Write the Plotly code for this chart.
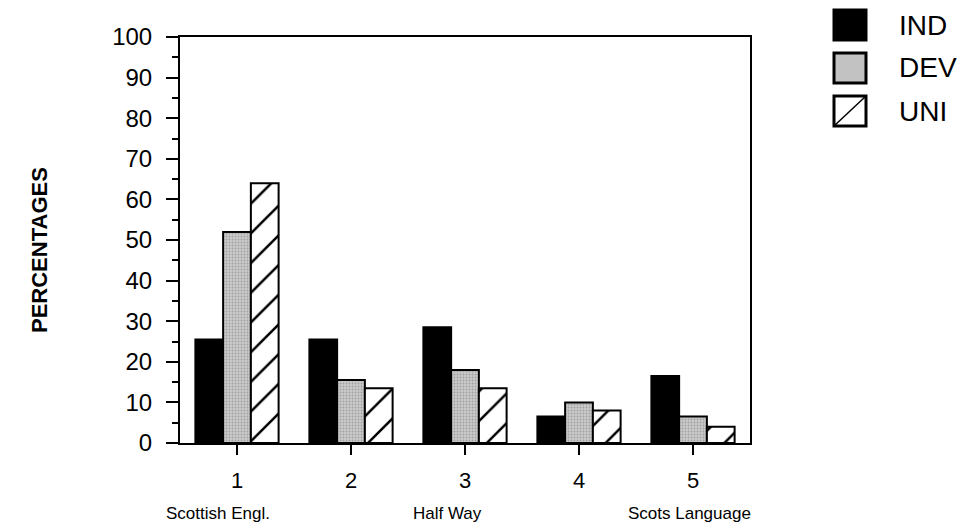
import plotly.graph_objects as go

categories = [1, 2, 3, 4, 5]
tick_labels = ["1", "2", "3", "4", "5"]
scale_labels = {1: "Scottish Engl.", 3: "Half Way", 5: "Scots Language"}
ind_values = [25.5, 25.5, 28.5, 6.5, 16.5]
dev_values = [52, 15.5, 18, 10, 6.5]
uni_values = [64, 13.5, 13.5, 8, 4]
series_names = ["IND", "DEV", "UNI"]

# page has an 8px body margin; compensate so the chart fills the 965x530 window
OFF = 8
W, H = 965 - OFF, 530 - OFF
ML, MR, MT, MB = 180 - OFF, 215, 37 - OFF, 87
PW, PH = W - ML - MR, H - MT - MB


def px(x):  # page pixel -> paper
    return (x - OFF - ML) / PW


def py(y):
    return (H - MB - (y - OFF)) / PH


line = dict(color="black", width=2)
fig = go.Figure()
fig.add_trace(go.Bar(x=categories, y=ind_values, name="IND",
                     marker=dict(color="black", line=line)))
fig.add_trace(go.Bar(x=categories, y=dev_values, name="DEV",
                     marker=dict(color="#c2c2c2", line=line,
                                 pattern=dict(shape=".", fgcolor="#a0a0a0", bgcolor="#cbcbcb",
                                              size=3, solidity=0.3, fgopacity=1))))
fig.add_trace(go.Bar(x=categories, y=uni_values, name="UNI",
                     marker=dict(color="white", line=line,
                                 pattern=dict(shape="/", fgcolor="black", bgcolor="white",
                                              size=21, solidity=0.12, fgopacity=1))))

font_main = "Liberation Sans, Arial, Helvetica, sans-serif"
narrow = "Liberation Sans Narrow, Arial Narrow, Liberation Sans, sans-serif"

fig.update_layout(
    width=W, height=H,
    margin=dict(l=ML, r=MR, t=MT, b=MB, pad=0),
    paper_bgcolor="white", plot_bgcolor="white",
    barmode="group", bargap=0.27, bargroupgap=0,
    showlegend=False,
    font=dict(family=font_main, color="black"),
    xaxis=dict(range=[0.5, 5.5], tickvals=categories, ticktext=tick_labels,
               ticks="outside", ticklen=10, tickwidth=2, tickcolor="black",
               showline=True, linewidth=2, linecolor="black", mirror=True,
               showgrid=False, zeroline=False, tickfont=dict(size=22),
               ticklabelstandoff=7),
    yaxis=dict(range=[0, 100], tickvals=list(range(0, 101, 10)),
               ticks="outside", ticklen=12, tickwidth=2, tickcolor="black",
               minor=dict(tickvals=list(range(5, 100, 10)), ticks="outside", ticklen=6,
                          tickwidth=2, tickcolor="black"),
               showline=True, linewidth=2, linecolor="black", mirror=True,
               showgrid=False, zeroline=False, tickfont=dict(size=24),
               ticklabelstandoff=9),
)

for cat, text in scale_labels.items():
    shift = {1: -19, 3: -18, 5: -4}[cat]
    fig.add_annotation(x=cat, y=0, xref="x", yref="paper", yanchor="middle",
                       yshift=-70, xshift=shift, text=text, showarrow=False,
                       font=dict(family=narrow, size=17))

fig.add_annotation(x=px(39), y=py(250), xref="paper", yref="paper",
                   text="<b>PERCENTAGES</b>", textangle=-90, showarrow=False,
                   font=dict(size=22), xanchor="center", yanchor="middle")

# custom legend
rows = [25, 68, 111]
fills = ["black", "#c2c2c2", "white"]
for name, cy, fill in zip(series_names, rows, fills):
    x0, x1 = 834, 866
    y0, y1 = cy - 15, cy + 15
    fig.add_shape(type="rect", xref="paper", yref="paper",
                  x0=px(x0), x1=px(x1), y0=py(y1), y1=py(y0),
                  fillcolor=fill, line=dict(color="black", width=3))
    if name == "UNI":
        fig.add_shape(type="line", xref="paper", yref="paper",
                      x0=px(x0), x1=px(x1), y0=py(y1), y1=py(y0),
                      line=dict(color="black", width=1.5))
    fig.add_annotation(x=px(897), y=py(cy), xref="paper", yref="paper",
                       text=name, showarrow=False, xanchor="left", yanchor="middle",
                       font=dict(size=28))

fig.write_html("out.html")
